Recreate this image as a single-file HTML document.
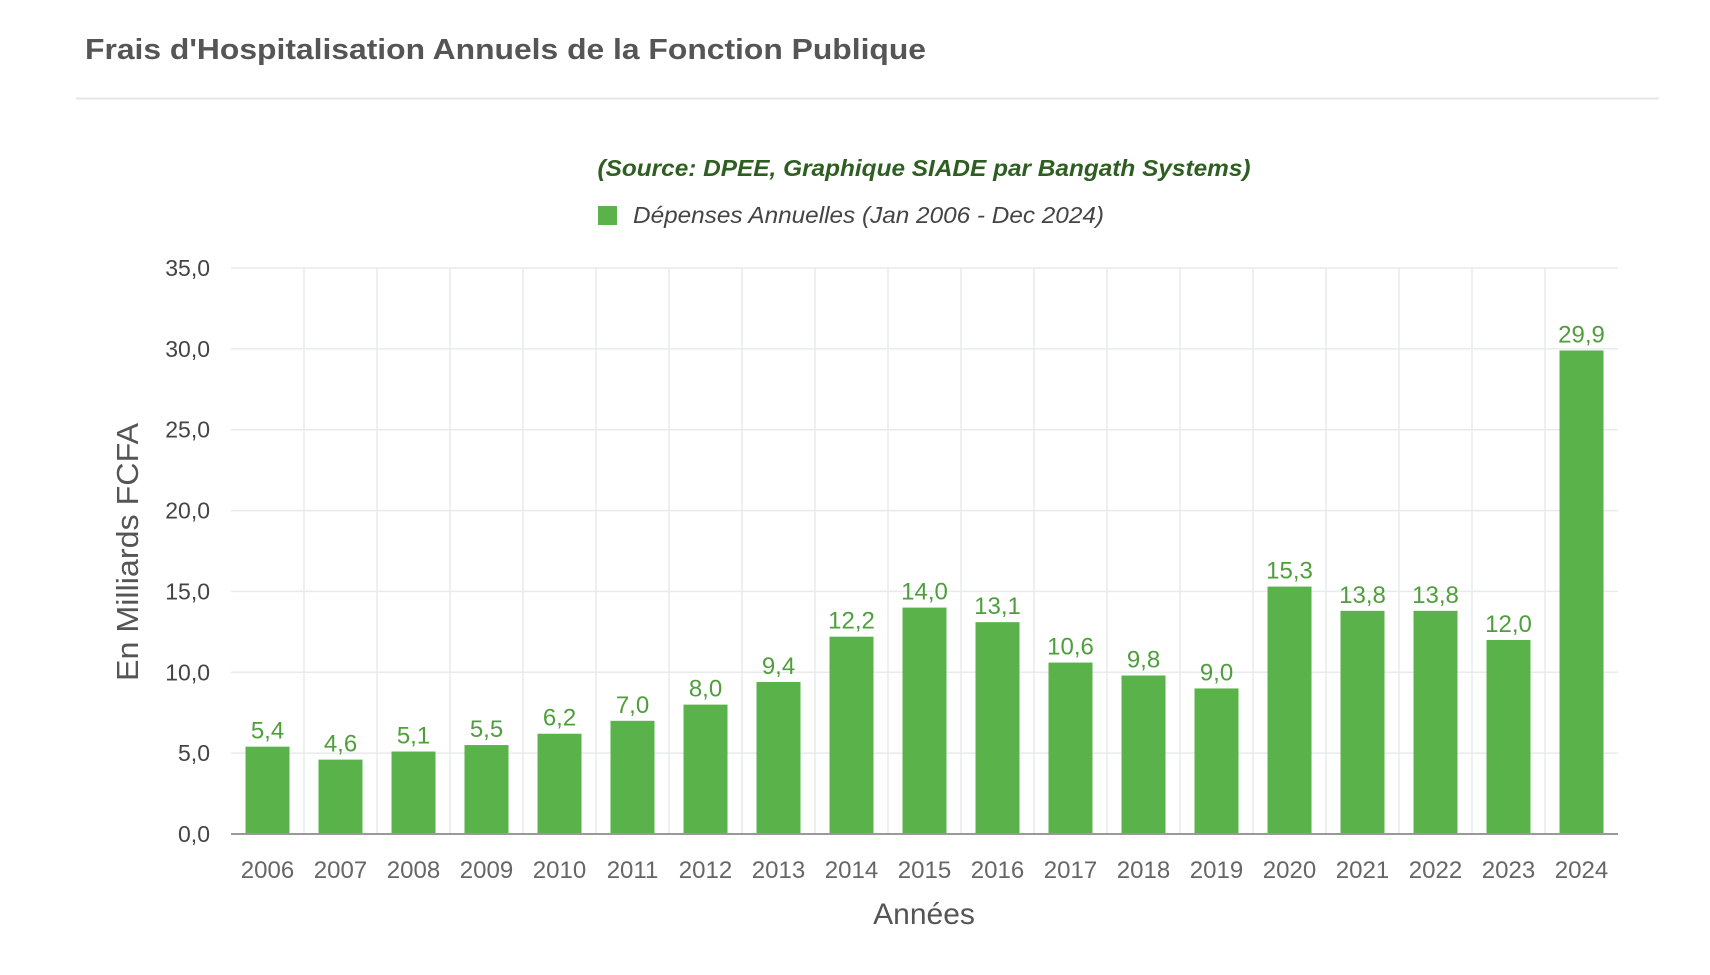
<!DOCTYPE html>
<html><head><meta charset="utf-8"><style>
body{margin:0;background:#fff;width:1710px;height:970px;overflow:hidden;font-family:"Liberation Sans",sans-serif}
</style></head><body>
<svg width="1710" height="970" xmlns="http://www.w3.org/2000/svg" font-family="Liberation Sans, sans-serif">
<text x="85" y="59" font-size="29" font-weight="bold" fill="#555" textLength="841" lengthAdjust="spacingAndGlyphs">Frais d'Hospitalisation Annuels de la Fonction Publique</text>
<line x1="76" y1="98.5" x2="1659" y2="98.5" stroke="#e6e6e6" stroke-width="2"/>
<text x="924" y="176" font-size="23" font-weight="bold" font-style="italic" fill="#2f5e22" text-anchor="middle" textLength="653" lengthAdjust="spacingAndGlyphs">(Source: DPEE, Graphique SIADE par Bangath Systems)</text>
<rect x="598" y="206" width="19" height="19" fill="#5ab24a"/>
<text x="633" y="223" font-size="23" font-style="italic" fill="#444" textLength="471" lengthAdjust="spacingAndGlyphs">Dépenses Annuelles (Jan 2006 - Dec 2024)</text>
<g id="grid" stroke="#e8eaec" stroke-width="1.5"></g>
<g id="bars"></g>
<text transform="translate(138,552) rotate(-90)" font-size="31" fill="#555" text-anchor="middle" textLength="258" lengthAdjust="spacingAndGlyphs">En Milliards FCFA</text>
<text x="924" y="924" font-size="30" fill="#555" text-anchor="middle">Années</text>
</svg>
<script>
const vals=[5.4,4.6,5.1,5.5,6.2,7.0,8.0,9.4,12.2,14.0,13.1,10.6,9.8,9.0,15.3,13.8,13.8,12.0,29.9];
const L=231,R=1618,B=834,T=268,k=(B-T)/35,cw=(R-L)/19;
const ns="http://www.w3.org/2000/svg";
const svg=document.querySelector('svg'),g=document.getElementById('grid'),bg=document.getElementById('bars');
function el(t,a,p,txt){const e=document.createElementNS(ns,t);for(const x in a)e.setAttribute(x,a[x]);if(txt!==undefined)e.textContent=txt;p.appendChild(e);return e;}
for(let i=0;i<=7;i++){const y=B-i*5*k;
 if(i>0)el('line',{x1:L,x2:R,y1:y,y2:y},g);
 el('text',{x:210,y:y+8,'font-size':23,fill:'#444','text-anchor':'end'},svg,(i*5).toFixed(1).replace('.',','));}
for(let i=1;i<19;i++){const x=L+i*cw;el('line',{x1:x,x2:x,y1:T,y2:B},g);}
vals.forEach((v,i)=>{const cx=L+(i+0.5)*cw,y=B-v*k;
 el('rect',{x:cx-22,y:y,width:44,height:B-y,fill:'#5ab24a'},bg);
 el('text',{x:cx,y:y-8,'font-size':24,fill:'#4f9e3c','text-anchor':'middle'},bg,v.toFixed(1).replace('.',','));
 el('text',{x:cx,y:878,'font-size':24,fill:'#666','text-anchor':'middle'},bg,String(2006+i));});
el('line',{x1:L,x2:R,y1:B,y2:B,stroke:'#999','stroke-width':2},svg);
</script>
</body></html>
